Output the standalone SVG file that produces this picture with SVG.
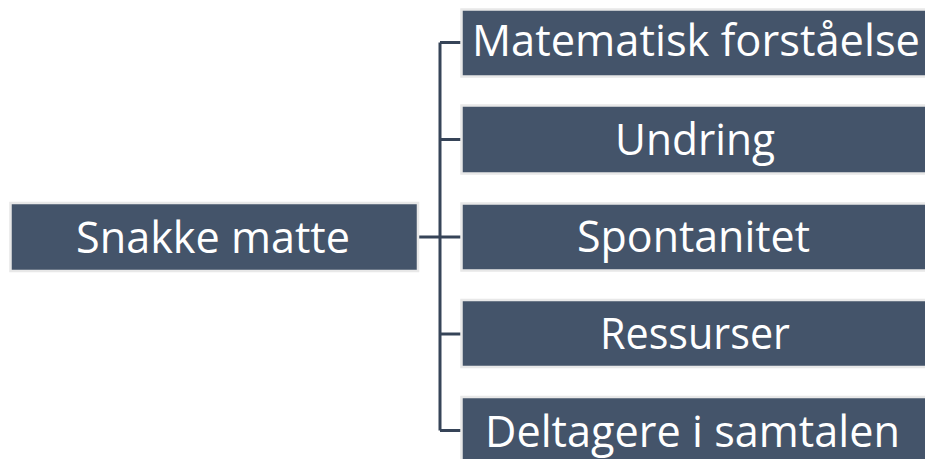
<svg xmlns="http://www.w3.org/2000/svg" width="925" height="459" viewBox="0 0 925 459">
<style>
.box{fill:#44546a;stroke:#e8e8e8;stroke-width:2.5}
.lbl{font-family:"Open Sans","Noto Sans","Liberation Sans",sans-serif;font-size:44px;fill:#ffffff;text-anchor:middle}
.con{stroke:#364458;stroke-width:3;fill:none}
</style>
<rect width="925" height="459" fill="#ffffff"/>
<g id="connectors">
<path class="con" d="M440,42.5 V430.5"/>
<path class="con" d="M440,42.5 H462"/>
<path class="con" d="M440,139.5 H462"/>
<path class="con" d="M419,237 H462"/>
<path class="con" d="M440,334 H462"/>
<path class="con" d="M440,430.5 H462"/>
</g>
<g id="snakke-matte">
<rect class="box" x="10.5" y="203" width="407.5" height="68"/>
<text class="lbl" x="213" y="252.5" textLength="274" lengthAdjust="spacingAndGlyphs">Snakke matte</text>
</g>
<g id="matematisk-forstaaelse">
<rect class="box" x="461.5" y="9.5" width="470" height="67"/>
<text class="lbl" x="696" y="55.5" textLength="448" lengthAdjust="spacingAndGlyphs">Matematisk forståelse</text>
</g>
<g id="undring">
<rect class="box" x="461.5" y="105.5" width="470" height="68"/>
<text class="lbl" x="695" y="155" textLength="160" lengthAdjust="spacingAndGlyphs">Undring</text>
</g>
<g id="spontanitet">
<rect class="box" x="461.5" y="203.5" width="470" height="67"/>
<text class="lbl" x="693.5" y="251.5" textLength="233" lengthAdjust="spacingAndGlyphs">Spontanitet</text>
</g>
<g id="ressurser">
<rect class="box" x="461.5" y="300" width="470" height="67"/>
<text class="lbl" x="695" y="348.5" textLength="190" lengthAdjust="spacingAndGlyphs">Ressurser</text>
</g>
<g id="deltagere">
<rect class="box" x="461.5" y="397" width="470" height="68"/>
<text class="lbl" x="692.5" y="446.5" textLength="415" lengthAdjust="spacingAndGlyphs">Deltagere i samtalen</text>
</g>
</svg>
